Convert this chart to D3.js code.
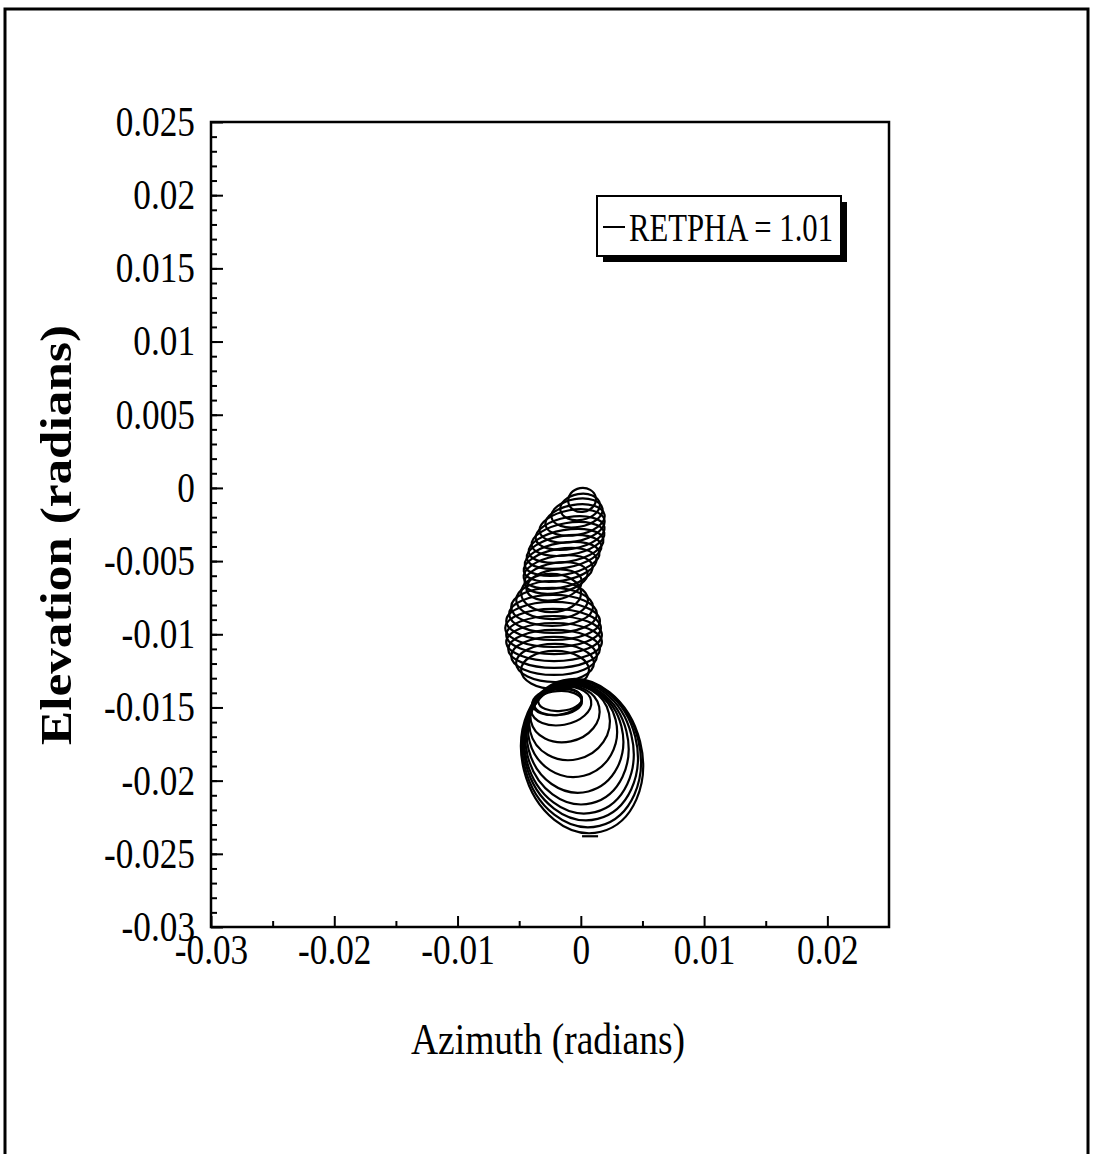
<!DOCTYPE html>
<html>
<head>
<meta charset="utf-8">
<script src="https://cdn.jsdelivr.net/npm/d3@7"></script>
<style>
  body { margin: 0; background: #fff; }
  text { font-family: "Liberation Serif", "Times New Roman", serif; fill: #000; }
</style>
</head>
<body>
<div id="chart"></div>
<script>
var width = 1093,
    height = 1154;

// axis setup
var xDomain = [-0.03, 0.025],
    yDomain = [-0.03, 0.025];
var xMajorTicks = [-0.03, -0.02, -0.01, 0, 0.01, 0.02];
var xTickLabels = ["-0.03", "-0.02", "-0.01", "0", "0.01", "0.02"];
var yMajorTicks = [0.025, 0.02, 0.015, 0.01, 0.005, 0, -0.005, -0.01, -0.015, -0.02, -0.025, -0.03];
var yTickLabels = ["0.025", "0.02", "0.015", "0.01", "0.005", "0", "-0.005", "-0.01", "-0.015", "-0.02", "-0.025", "-0.03"];

var legendLabel = "RETPHA = 1.01";

// pointing trace: one loop per entry (centre, half widths, tilt in degrees)
var loopAz = [
  0.0001, -0.00006, -0.00031, -0.00047, -0.00071, -0.00087, -0.00104, -0.0012, -0.00136, -0.00152, -0.00168, -0.00184, -0.00201, -0.00217,
  -0.00241, -0.00233, -0.00233, -0.00225, -0.00225, -0.00225, -0.00217, -0.00217, -0.00217, -0.00217, -0.00209, -0.00209,
  -0.00168, -0.00184, -0.00193, -0.0016, -0.00128, -0.00091, -0.00067, -0.00047, -0.00031, -0.00015, -0.00002, 0.00006, 0.0001
];
var loopEl = [
  -0.00082, -0.0013, -0.00171, -0.00219, -0.0026, -0.00308, -0.00349, -0.00396, -0.00437, -0.00485, -0.00526, -0.00574, -0.00615, -0.00663,
  -0.00718, -0.00766, -0.00813, -0.00861, -0.00909, -0.00957, -0.01005, -0.01053, -0.011, -0.01148, -0.01196, -0.01244,
  -0.01449, -0.0147, -0.01459, -0.0149, -0.01545, -0.01603, -0.01658, -0.01709, -0.01746, -0.01774, -0.01794, -0.01815, -0.01832
];
var loopRx = [
  0.00113, 0.00162, 0.0021, 0.00243, 0.00267, 0.00283, 0.00299, 0.00307, 0.00307, 0.00307, 0.00299, 0.00283, 0.00259, 0.00227,
  0.00243, 0.00291, 0.00332, 0.00356, 0.0038, 0.00388, 0.00388, 0.00388, 0.00372, 0.00348, 0.00316, 0.00275,
  0.00178, 0.00194, 0.00202, 0.00247, 0.00283, 0.00328, 0.0036, 0.00388, 0.00413, 0.00437, 0.00457, 0.00473, 0.00485
];
var loopRy = [
  0.00082, 0.00089, 0.00096, 0.00103, 0.00109, 0.00109, 0.00109, 0.00109, 0.00109, 0.00109, 0.00109, 0.00109, 0.00103, 0.00103,
  0.0013, 0.0013, 0.0013, 0.0013, 0.0013, 0.0013, 0.0013, 0.0013, 0.0013, 0.0013, 0.0013, 0.0013,
  0.00075, 0.00082, 0.00092, 0.0013, 0.00191, 0.00256, 0.00318, 0.00376, 0.0042, 0.00455, 0.00482, 0.00509, 0.00533
];
var loopTilt = [
  -10, -10, -10, -10, -10, -10, -10, -10, -10, -10, -10, -10, -10, -10,
  0, 0, 0, 0, 0, 0, 0, 0, 0, 0, 0, 0,
  -5, -5, -8, -10, -12, -13, -14, -14, -14, -14, -14, -14, -14
];

// where the trace ends
var tailAz = [0.0001, 0.0014],
    tailEl = [-0.0238, -0.0238];

var svg = d3.select("#chart").append("svg")
    .attr("width", width)
    .attr("height", height);

// outer page frame
svg.append("rect")
    .attr("x", 5).attr("y", 9)
    .attr("width", 1083).attr("height", 1160)
    .attr("fill", "none")
    .attr("stroke", "#000")
    .attr("stroke-width", 3);

var x = d3.scaleLinear().domain(xDomain).range([211, 889]);
var y = d3.scaleLinear().domain(yDomain).range([927, 122]);

// minor ticks
svg.append("g")
    .attr("transform", "translate(0,927)")
    .call(d3.axisBottom(x).tickValues(d3.range(-0.025, 0.025, 0.01)).tickSize(-6).tickFormat(""))
    .call(function(g) { g.select(".domain").remove(); });

svg.append("g")
    .attr("transform", "translate(211,0)")
    .call(d3.axisLeft(y).tickValues(d3.range(-29, 25).map(function(d) { return d / 1000; })).tickSize(-6).tickFormat(""))
    .call(function(g) { g.select(".domain").remove(); });

// major ticks + labels
var labelScale = 0.84;

var xAxis = svg.append("g")
    .attr("transform", "translate(0,927)")
    .call(d3.axisBottom(x).tickValues(xMajorTicks).tickSize(-11).tickPadding(7)
      .tickFormat(function(d, i) { return xTickLabels[i]; }));
xAxis.select(".domain").remove();

var yAxis = svg.append("g")
    .attr("transform", "translate(211,0)")
    .call(d3.axisLeft(y).tickValues(yMajorTicks).tickSize(-12).tickPadding(16)
      .tickFormat(function(d, i) { return yTickLabels[i]; }));
yAxis.select(".domain").remove();
yAxis.selectAll(".tick text").attr("x", -16 / labelScale);

svg.selectAll(".tick line").attr("stroke", "#000").attr("stroke-width", 2);
svg.selectAll(".tick text")
    .attr("transform", "scale(" + labelScale + ",1)")
    .style("font-family", "'Liberation Serif', 'Times New Roman', serif")
    .style("font-size", "42px");

// plot frame
svg.append("rect")
    .attr("x", x(xDomain[0])).attr("y", y(yDomain[1]))
    .attr("width", x(xDomain[1]) - x(xDomain[0]))
    .attr("height", y(yDomain[0]) - y(yDomain[1]))
    .attr("fill", "none")
    .attr("stroke", "#000")
    .attr("stroke-width", 2.5);

// the loops
var loops = loopAz.map(function(d, i) {
  return { az: d, el: loopEl[i], rx: loopRx[i], ry: loopRy[i], tilt: loopTilt[i] };
});

var trace = svg.append("g");

trace.selectAll("ellipse")
    .data(loops)
  .enter().append("ellipse")
    .attr("cx", function(d) { return x(d.az); })
    .attr("cy", function(d) { return y(d.el); })
    .attr("rx", function(d) { return x(d.az + d.rx) - x(d.az); })
    .attr("ry", function(d) { return y(d.el) - y(d.el + d.ry); })
    .attr("transform", function(d) { return "rotate(" + d.tilt + "," + x(d.az) + "," + y(d.el) + ")"; })
    .attr("fill", "none")
    .attr("stroke", "#000")
    .attr("stroke-width", 2.2);

var tailLine = d3.line()
    .x(function(d, i) { return x(tailAz[i]); })
    .y(function(d, i) { return y(tailEl[i]); });

trace.append("path")
    .attr("d", tailLine(tailAz))
    .attr("fill", "none")
    .attr("stroke", "#000")
    .attr("stroke-width", 2.2);

// legend with drop shadow
var legend = svg.append("g").attr("transform", "translate(597,196)");
legend.append("rect")
    .attr("x", 6).attr("y", 6).attr("width", 244).attr("height", 60)
    .attr("fill", "#000");
legend.append("rect")
    .attr("x", 0).attr("y", 0).attr("width", 244).attr("height", 60)
    .attr("fill", "#fff").attr("stroke", "#000").attr("stroke-width", 2);
legend.append("line")
    .attr("x1", 6).attr("x2", 28).attr("y1", 31).attr("y2", 31)
    .attr("stroke", "#000").attr("stroke-width", 2);
legend.append("text")
    .attr("x", 32).attr("y", 45)
    .attr("textLength", 204)
    .attr("lengthAdjust", "spacingAndGlyphs")
    .style("font-size", "39px")
    .text(legendLabel);

// axis titles
svg.append("text")
    .attr("x", 548).attr("y", 1054)
    .attr("text-anchor", "middle")
    .attr("textLength", 274)
    .attr("lengthAdjust", "spacingAndGlyphs")
    .style("font-size", "44px")
    .text("Azimuth (radians)");

svg.append("text")
    .attr("transform", "translate(71,535) rotate(-90)")
    .attr("text-anchor", "middle")
    .attr("textLength", 420)
    .attr("lengthAdjust", "spacingAndGlyphs")
    .style("font-size", "45px")
    .style("font-weight", "bold")
    .text("Elevation (radians)");
</script>
</body>
</html>
